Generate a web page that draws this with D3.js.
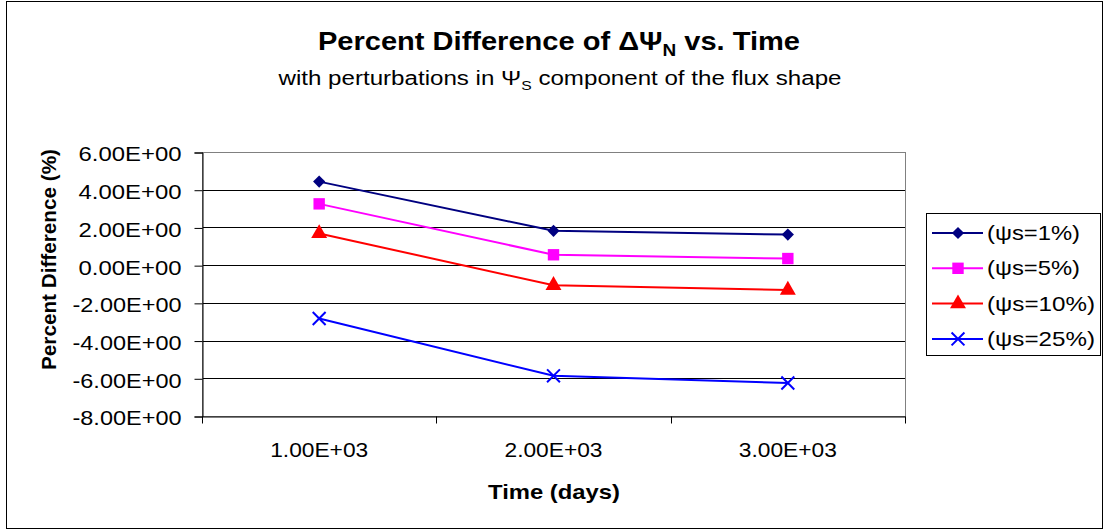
<!DOCTYPE html>
<html>
<head>
<meta charset="utf-8">
<title>Percent Difference vs Time</title>
<style>
  body { margin: 0; background: #fff; }
  text { font-family: "Liberation Sans", Arial, sans-serif; fill: #000; }
</style>
</head>
<body>
<script src="https://d3js.org/d3.v7.min.js"></script>
<script>
var width = 1107, height = 531;

// data
var times = ["1.00E+03", "2.00E+03", "3.00E+03"];
var yTicks = [6, 4, 2, 0, -2, -4, -6, -8];
var seriesNames = ["(ψs=1%)", "(ψs=5%)", "(ψs=10%)", "(ψs=25%)"];
var seriesColors = ["#000080", "#ff00ff", "#ff0000", "#0000ff"];
var seriesMarkers = ["diamond", "square", "triangle", "cross"];
var psi1 = [4.43, 1.82, 1.62];
var psi5 = [3.25, 0.55, 0.35];
var psi10 = [1.68, -1.07, -1.32];
var psi25 = [-2.83, -5.87, -6.25];
var allSeries = [psi1, psi5, psi10, psi25];

var plot = { left: 202, right: 905, top: 152, bottom: 416 };

var svg = d3.select("body").append("svg").attr("width", width).attr("height", height);

// outer chart border
svg.append("rect")
  .attr("x", 6.5).attr("y", 1.5)
  .attr("width", 1096).attr("height", 527)
  .attr("fill", "#fff").attr("stroke", "#000").attr("stroke-width", 1);

var x = d3.scaleBand().domain(times).range([plot.left, plot.right]);
var y = d3.scaleLinear().domain([-8, 6]).range([plot.bottom, plot.top]);

// gridlines
svg.append("g").selectAll("line")
  .data(yTicks)
  .enter().append("line")
  .attr("x1", plot.left).attr("x2", plot.right)
  .attr("y1", function(d) { return Math.round(y(d)) + 0.5; })
  .attr("y2", function(d) { return Math.round(y(d)) + 0.5; })
  .attr("stroke", "#000").attr("stroke-width", 1);

// plot area border (gray)
svg.append("rect")
  .attr("x", plot.left + 0.5).attr("y", Math.round(y(6)) + 0.5)
  .attr("width", plot.right - plot.left).attr("height", Math.round(y(-8)) - Math.round(y(6)))
  .attr("fill", "none").attr("stroke", "#808080").attr("stroke-width", 1);

// y axis, excel style labels with a plain hyphen
var yFmt = function(d) { return (d < 0 ? "-" : "") + Math.abs(d).toFixed(2) + "E+00"; };
var yAxis = d3.axisLeft(y).tickValues(yTicks).tickSize(8).tickPadding(13).tickFormat(yFmt);
var gy = svg.append("g")
  .attr("transform", "translate(" + (plot.left + 0.5) + ",0.5)")
  .call(yAxis);
gy.selectAll("text")
  .style("font-size", "21px").attr("fill", "#000")
  .attr("dy", "0.4em")
  .attr("textLength", function(d) { return d < 0 ? 109 : 103; })
  .attr("lengthAdjust", "spacingAndGlyphs");
gy.selectAll("line, path").attr("stroke", "#000");

// x axis
var xAxis = d3.axisBottom(x).tickSize(0).tickPadding(26);
var gx = svg.append("g")
  .attr("transform", "translate(0," + (Math.round(y(-8)) + 0.5) + ")")
  .call(xAxis);
gx.select(".domain").attr("stroke", "#000");
gx.selectAll("text")
  .style("font-size", "21px").attr("fill", "#000")
  .attr("textLength", 98).attr("lengthAdjust", "spacingAndGlyphs");
// tick marks between categories
var xEdges = times.map(function(t) { return x(t); }).concat([plot.right]);
gx.selectAll(".edge").data(xEdges).enter().append("line")
  .attr("class", "edge")
  .attr("x1", function(d) { return Math.round(d) + 0.5; })
  .attr("x2", function(d) { return Math.round(d) + 0.5; })
  .attr("y1", 0).attr("y2", 7)
  .attr("stroke", "#000");

// lines
var line = d3.line()
  .x(function(d, i) { return x(times[i]) + x.bandwidth() / 2; })
  .y(function(d) { return y(d); });

var markerPath = {
  diamond: d3.symbol().type(d3.symbolDiamond2).size(95),
  square: d3.symbol().type(d3.symbolSquare).size(130),
  triangle: d3.symbol().type(d3.symbolTriangle).size(110),
  cross: d3.symbol().type(d3.symbolX).size(110)
};

function drawMarker(g, kind, color) {
  var p = g.append("path").attr("d", markerPath[kind]());
  if (kind === "cross") {
    p.attr("fill", "none").attr("stroke", color).attr("stroke-width", 2);
  } else {
    p.attr("fill", color).attr("stroke", "none");
  }
}

allSeries.forEach(function(vals, si) {
  var color = seriesColors[si];
  svg.append("path")
    .datum(vals)
    .attr("d", line)
    .attr("fill", "none")
    .attr("stroke", color)
    .attr("stroke-width", 2);
  vals.forEach(function(v, i) {
    var g = svg.append("g")
      .attr("transform", "translate(" + (x(times[i]) + x.bandwidth() / 2) + "," + y(v) + ")");
    drawMarker(g, seriesMarkers[si], color);
  });
});

// titles
var title = svg.append("text")
  .attr("x", 559).attr("y", 50)
  .attr("text-anchor", "middle")
  .attr("textLength", 482).attr("lengthAdjust", "spacingAndGlyphs")
  .style("font-size", "26px").style("font-weight", "bold");
title.append("tspan").text("Percent Difference of ΔΨ");
title.append("tspan").text("N").style("font-size", "17px").attr("dy", 6);
title.append("tspan").text(" vs. Time").attr("dy", -6);

var sub = svg.append("text")
  .attr("x", 560).attr("y", 85)
  .attr("text-anchor", "middle")
  .attr("textLength", 563).attr("lengthAdjust", "spacingAndGlyphs")
  .style("font-size", "20px");
sub.append("tspan").text("with perturbations in Ψ");
sub.append("tspan").text("S").style("font-size", "13px").attr("dy", 5);
sub.append("tspan").text(" component of the flux shape").attr("dy", -5);

svg.append("text")
  .attr("transform", "translate(56," + 259.5 + ") rotate(-90)")
  .attr("text-anchor", "middle")
  .attr("textLength", 221).attr("lengthAdjust", "spacingAndGlyphs")
  .style("font-size", "21px").style("font-weight", "bold")
  .text("Percent Difference (%)");

svg.append("text")
  .attr("x", 554).attr("y", 499)
  .attr("text-anchor", "middle")
  .attr("textLength", 132).attr("lengthAdjust", "spacingAndGlyphs")
  .style("font-size", "21px").style("font-weight", "bold")
  .text("Time (days)");

// legend
var legendWidths = [93, 93, 108, 108];
var legend = svg.append("g").attr("transform", "translate(926,213)");
legend.append("rect")
  .attr("x", 0.5).attr("y", 0.5).attr("width", 174).attr("height", 142)
  .attr("fill", "#fff").attr("stroke", "#000");
seriesNames.forEach(function(name, i) {
  var ly = 20 + i * 35.3;
  var g = legend.append("g").attr("transform", "translate(0," + ly + ")");
  g.append("line").attr("x1", 6).attr("x2", 57).attr("y1", 0).attr("y2", 0)
    .attr("stroke", seriesColors[i]).attr("stroke-width", 2);
  var m = g.append("g").attr("transform", "translate(32,0)");
  drawMarker(m, seriesMarkers[i], seriesColors[i]);
  g.append("text").attr("x", 61).attr("y", 7)
    .attr("textLength", legendWidths[i]).attr("lengthAdjust", "spacingAndGlyphs")
    .style("font-size", "21px").text(name);
});
</script>
</body>
</html>
